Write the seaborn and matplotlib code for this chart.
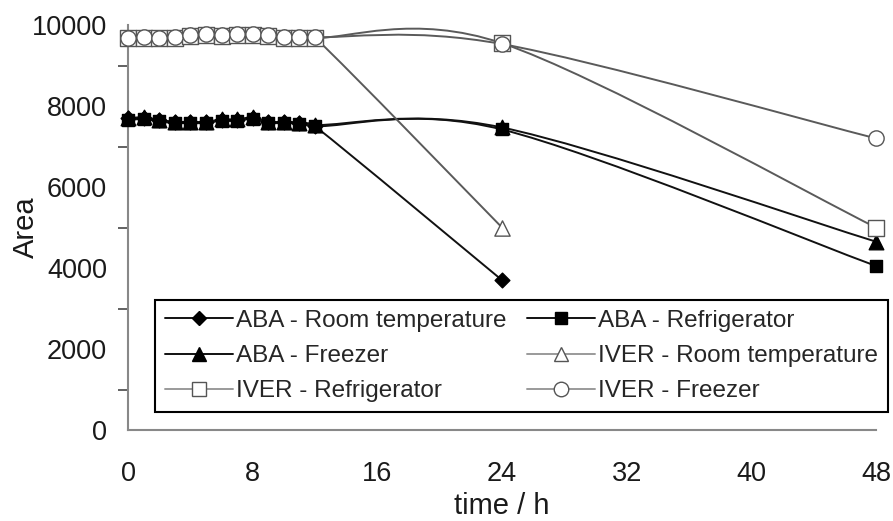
import numpy as np
import pandas as pd
import matplotlib
matplotlib.use("Agg")
import matplotlib.pyplot as plt
import seaborn as sns
from matplotlib.path import Path
from matplotlib.patches import PathPatch
from matplotlib.lines import Line2D
from matplotlib.ticker import MultipleLocator

# ---------------- data ----------------
time_full = [0, 1, 2, 3, 4, 5, 6, 7, 8, 9, 10, 11, 12, 24, 48]
time_rt = [0, 1, 2, 3, 4, 5, 6, 7, 8, 9, 10, 11, 12, 24]

aba_room = [7700, 7700, 7650, 7600, 7600, 7600, 7650, 7650, 7700, 7600, 7600, 7580, 7500, 3700]
aba_fridge = [7650, 7680, 7620, 7580, 7580, 7580, 7640, 7640, 7680, 7580, 7580, 7560, 7500, 7420, 4050]
aba_freezer = [7700, 7720, 7660, 7610, 7610, 7610, 7670, 7670, 7720, 7610, 7610, 7590, 7530, 7470, 4650]
iver_room = [9680, 9690, 9680, 9690, 9750, 9760, 9750, 9760, 9760, 9740, 9700, 9690, 9690, 5000]
iver_fridge = [9670, 9680, 9670, 9680, 9740, 9750, 9740, 9750, 9750, 9730, 9690, 9680, 9680, 9550, 5000]
iver_freezer = [9690, 9700, 9690, 9700, 9760, 9770, 9760, 9770, 9770, 9750, 9710, 9700, 9700, 9530, 7200]

labels = ["ABA - Room temperature", "ABA - Refrigerator", "ABA - Freezer",
          "IVER - Room temperature", "IVER - Refrigerator", "IVER - Freezer"]

x_ticks = [0, 8, 16, 24, 32, 40, 48]
y_ticks = [0, 2000, 4000, 6000, 8000, 10000]

# ---------------- style ----------------
sns.set_theme(style="white")
plt.rcParams["font.family"] = ["Liberation Sans", "DejaVu Sans"]

ABA_LINE = "#111111"
IVER_LINE = "#5a5a5a"
IVER_EDGE = "#555555"

series = [
    (time_rt, aba_room, dict(marker="D", ms=7.5, mfc="black", mec="black"), ABA_LINE, ABA_LINE),
    (time_full, aba_fridge, dict(marker="s", ms=8.5, mfc="black", mec="black"), ABA_LINE, ABA_LINE),
    (time_full, aba_freezer, dict(marker="^", ms=10.5, mfc="black", mec="black"), ABA_LINE, ABA_LINE),
    (time_rt, iver_room, dict(marker="^", ms=11, mfc="white", mec=IVER_EDGE), IVER_LINE, "#9a9a9a"),
    (time_full, iver_fridge, dict(marker="s", ms=11, mfc="white", mec=IVER_EDGE), IVER_LINE, "#9a9a9a"),
    (time_full, iver_freezer, dict(marker="o", ms=11, mfc="white", mec=IVER_EDGE), IVER_LINE, "#9a9a9a"),
]

W, H = 893, 521
fig = plt.figure(figsize=(W / 100, H / 100), dpi=100)
ax = fig.add_axes([128 / W, 1 - 430 / H, (876 - 128) / W, (430 - 25) / H])
ax.set_xlim(0, 48)
ax.set_ylim(0, 10000)


def smooth_path(xs, ys):
    pts = ax.transData.transform(np.column_stack([xs, ys]).astype(float))
    n = len(pts)
    verts = [pts[0]]
    codes = [Path.MOVETO]
    for i in range(n - 1):
        p0 = pts[i - 1] if i > 0 else pts[i]
        p1 = pts[i]
        p2 = pts[i + 1]
        p3 = pts[i + 2] if i + 2 < n else pts[i + 1]
        seg = np.hypot(*(p2 - p1))
        a1 = (p2 - p0) / 6.0
        a2 = (p3 - p1) / 6.0
        lim = 0.5 * seg
        l1 = np.hypot(*a1)
        l2 = np.hypot(*a2)
        if l1 > lim:
            a1 = a1 * lim / l1
        if l2 > lim:
            a2 = a2 * lim / l2
        verts += [p1 + a1, p2 - a2, p2]
        codes += [Path.CURVE4] * 3
    verts = ax.transData.inverted().transform(np.array(verts))
    return Path(verts, codes)


handles = []
for k, (xs, ys, mk, lcol, hcol) in enumerate(series):
    patch = PathPatch(smooth_path(xs, ys), facecolor="none", edgecolor=lcol,
                      lw=1.4, zorder=2, transform=ax.transData)
    ax.add_patch(patch)
    df = pd.DataFrame({"t": xs, "area": ys})
    sns.scatterplot(data=df, x="t", y="area", ax=ax, marker=mk["marker"],
                    s=mk["ms"] ** 2, color=mk["mfc"], edgecolor=mk["mec"],
                    linewidth=1.0, zorder=3 + k, clip_on=False, legend=False)
    handles.append(Line2D([], [], color=hcol, lw=1.4, marker=mk["marker"],
                          ms=mk["ms"] * 0.95, mfc=mk["mfc"], mec=mk["mec"], mew=1.0))

# ---------------- axes ----------------
for s in ["top", "right"]:
    ax.spines[s].set_visible(False)
for s in ["left", "bottom"]:
    ax.spines[s].set_color("#888888")
    ax.spines[s].set_linewidth(1.5)

ax.set_xticks(x_ticks)
ax.set_yticks(y_ticks)
ax.yaxis.set_minor_locator(MultipleLocator(1000))
ax.tick_params(axis="both", which="major", direction="out", length=7, width=1.3,
               color="#555555", labelsize=19.5, labelcolor="#1a1a1a", pad=8)
ax.tick_params(axis="y", which="minor", direction="out", length=7, width=1.3,
               color="#555555", left=True)
ax.tick_params(axis="x", which="major", pad=15)
ax.set_xlabel("time / h", fontsize=21, color="#1a1a1a", labelpad=4)
ax.set_ylabel("Area", fontsize=21, color="#1a1a1a")
ax.yaxis.set_label_coords(-0.118, 0.5)

# legend filled row by row (as in the reference)
order = [0, 2, 4, 1, 3, 5]
leg = ax.legend([handles[i] for i in order], [labels[i] for i in order],
                ncol=2, loc="lower left",
                bbox_to_anchor=(0.036, 0.044, 0.98, 0.277), mode="expand",
                fontsize=17.5, frameon=True, fancybox=False, borderpad=0.4,
                labelspacing=0.55, handlelength=2.8, handletextpad=0.15,
                borderaxespad=0, numpoints=1)
leg.get_frame().set_edgecolor("black")
leg.get_frame().set_linewidth(1.5)
leg.get_frame().set_alpha(1)
leg.set_zorder(20)

fig.savefig("out.png", dpi=100)
